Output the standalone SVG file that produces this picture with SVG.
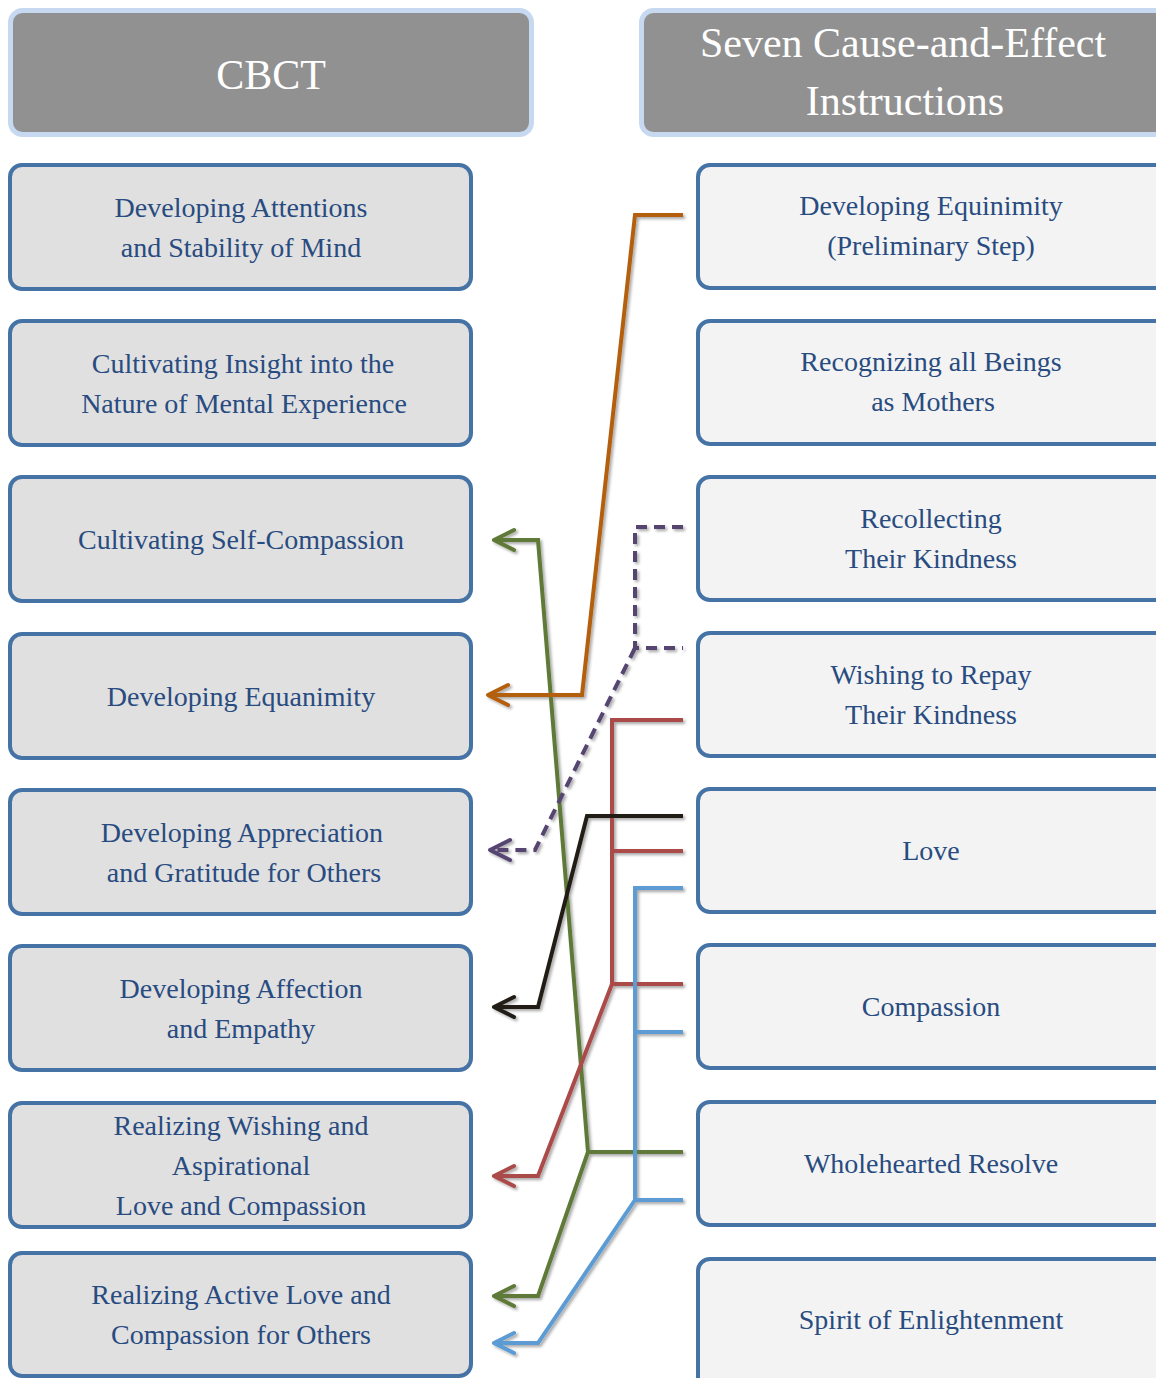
<svg xmlns="http://www.w3.org/2000/svg" width="1156" height="1378" viewBox="0 0 1156 1378">
  <style>
    .hdr { fill: #919191; stroke: #c6d9f1; stroke-width: 5; }
    .hdr-t { font-family: "Liberation Serif", "Times New Roman", serif; font-size: 42px; fill: #ffffff; text-anchor: middle; }
    .nl { fill: #e0e0e0; stroke: #4673a5; stroke-width: 4; }
    .nr { fill: #f3f3f3; stroke: #4673a5; stroke-width: 4; }
    .t { font-family: "Liberation Serif", "Times New Roman", serif; font-size: 28px; fill: #284b80; text-anchor: middle; }
    .c { fill: none; stroke-width: 4; stroke-linejoin: miter; }
    .orange { stroke: #b35f0e; }
    .green { stroke: #5f7a38; }
    .purple { stroke: #544470; stroke-dasharray: 11 7; }
    .red { stroke: #ab4c48; }
    .black { stroke: #231f14; }
    .blue { stroke: #5b9bd3; }
  </style>
  <defs>
    <filter id="shade" x="-10%" y="-10%" width="130%" height="130%">
      <feDropShadow dx="2" dy="2" stdDeviation="1.5" flood-color="#000" flood-opacity="0.35"/>
    </filter>
    <marker id="ah-orange" markerUnits="userSpaceOnUse" viewBox="-26 -16 32 32" markerWidth="32" markerHeight="32" refX="0" refY="0" orient="auto">
      <path d="M-20,-10 L0,0 L-20,10" fill="none" stroke="#b35f0e" stroke-width="4" stroke-linecap="round" stroke-linejoin="round"/>
    </marker>
    <marker id="ah-green" markerUnits="userSpaceOnUse" viewBox="-26 -16 32 32" markerWidth="32" markerHeight="32" refX="0" refY="0" orient="auto">
      <path d="M-20,-10 L0,0 L-20,10" fill="none" stroke="#5f7a38" stroke-width="4" stroke-linecap="round" stroke-linejoin="round"/>
    </marker>
    <marker id="ah-purple" markerUnits="userSpaceOnUse" viewBox="-26 -16 32 32" markerWidth="32" markerHeight="32" refX="0" refY="0" orient="auto">
      <path d="M-20,-10 L0,0 L-20,10" fill="none" stroke="#544470" stroke-width="4" stroke-linecap="round" stroke-linejoin="round"/>
    </marker>
    <marker id="ah-red" markerUnits="userSpaceOnUse" viewBox="-26 -16 32 32" markerWidth="32" markerHeight="32" refX="0" refY="0" orient="auto">
      <path d="M-20,-10 L0,0 L-20,10" fill="none" stroke="#ab4c48" stroke-width="4" stroke-linecap="round" stroke-linejoin="round"/>
    </marker>
    <marker id="ah-black" markerUnits="userSpaceOnUse" viewBox="-26 -16 32 32" markerWidth="32" markerHeight="32" refX="0" refY="0" orient="auto">
      <path d="M-20,-10 L0,0 L-20,10" fill="none" stroke="#231f14" stroke-width="4" stroke-linecap="round" stroke-linejoin="round"/>
    </marker>
    <marker id="ah-blue" markerUnits="userSpaceOnUse" viewBox="-26 -16 32 32" markerWidth="32" markerHeight="32" refX="0" refY="0" orient="auto">
      <path d="M-20,-10 L0,0 L-20,10" fill="none" stroke="#5b9bd3" stroke-width="4" stroke-linecap="round" stroke-linejoin="round"/>
    </marker>
  </defs>

  <rect width="1156" height="1378" fill="#ffffff"/>

  <!-- column headers -->
  <g id="header-cbct">
    <rect class="hdr" x="10.5" y="10.5" width="521" height="124" rx="12"/>
    <text class="hdr-t" x="271" y="89">CBCT</text>
  </g>
  <g id="header-seven">
    <rect class="hdr" x="641.5" y="10.5" width="530" height="124" rx="12"/>
    <text class="hdr-t" x="903" y="57">Seven Cause-and-Effect</text>
    <text class="hdr-t" x="905" y="115">Instructions</text>
  </g>

  <!-- CBCT stages -->
  <g id="cbct-1">
    <rect class="nl" x="10" y="165" width="461" height="124" rx="12"/>
    <text class="t" x="241" y="217">Developing Attentions</text>
    <text class="t" x="241" y="257">and Stability of Mind</text>
  </g>
  <g id="cbct-2">
    <rect class="nl" x="10" y="321" width="461" height="124" rx="12"/>
    <text class="t" x="243" y="373">Cultivating Insight into the</text>
    <text class="t" x="244" y="413">Nature of Mental Experience</text>
  </g>
  <g id="cbct-3">
    <rect class="nl" x="10" y="477" width="461" height="124" rx="12"/>
    <text class="t" x="241" y="549">Cultivating Self-Compassion</text>
  </g>
  <g id="cbct-4">
    <rect class="nl" x="10" y="634" width="461" height="124" rx="12"/>
    <text class="t" x="241" y="706">Developing Equanimity</text>
  </g>
  <g id="cbct-5">
    <rect class="nl" x="10" y="790" width="461" height="124" rx="12"/>
    <text class="t" x="242" y="842">Developing Appreciation</text>
    <text class="t" x="244" y="882">and Gratitude for Others</text>
  </g>
  <g id="cbct-6">
    <rect class="nl" x="10" y="946" width="461" height="124" rx="12"/>
    <text class="t" x="241" y="998">Developing Affection</text>
    <text class="t" x="241" y="1038">and Empathy</text>
  </g>
  <g id="cbct-7">
    <rect class="nl" x="10" y="1103" width="461" height="124" rx="12"/>
    <text class="t" x="241" y="1135">Realizing Wishing and</text>
    <text class="t" x="241" y="1175">Aspirational</text>
    <text class="t" x="241" y="1215">Love and Compassion</text>
  </g>
  <g id="cbct-8">
    <rect class="nl" x="10" y="1253" width="461" height="123" rx="12"/>
    <text class="t" x="241" y="1304">Realizing Active Love and</text>
    <text class="t" x="241" y="1344">Compassion for Others</text>
  </g>

  <!-- seven-point instructions -->
  <g id="seven-1">
    <rect class="nr" x="698" y="165" width="470" height="123" rx="12"/>
    <text class="t" x="931" y="215">Developing Equinimity</text>
    <text class="t" x="931" y="255">(Preliminary Step)</text>
  </g>
  <g id="seven-2">
    <rect class="nr" x="698" y="321" width="470" height="123" rx="12"/>
    <text class="t" x="931" y="371">Recognizing all Beings</text>
    <text class="t" x="933" y="411">as Mothers</text>
  </g>
  <g id="seven-3">
    <rect class="nr" x="698" y="477" width="470" height="123" rx="12"/>
    <text class="t" x="931" y="528">Recollecting</text>
    <text class="t" x="931" y="568">Their Kindness</text>
  </g>
  <g id="seven-4">
    <rect class="nr" x="698" y="633" width="470" height="123" rx="12"/>
    <text class="t" x="931" y="684">Wishing to Repay</text>
    <text class="t" x="931" y="724">Their Kindness</text>
  </g>
  <g id="seven-5">
    <rect class="nr" x="698" y="789" width="470" height="123" rx="12"/>
    <text class="t" x="931" y="860">Love</text>
  </g>
  <g id="seven-6">
    <rect class="nr" x="698" y="945" width="470" height="123" rx="12"/>
    <text class="t" x="931" y="1016">Compassion</text>
  </g>
  <g id="seven-7">
    <rect class="nr" x="698" y="1102" width="470" height="123" rx="12"/>
    <text class="t" x="931" y="1173">Wholehearted Resolve</text>
  </g>
  <g id="seven-8">
    <rect class="nr" x="698" y="1259" width="470" height="140" rx="12"/>
    <text class="t" x="931" y="1329">Spirit of Enlightenment</text>
  </g>

  <!-- mapping connectors -->
  <g id="connectors" filter="url(#shade)">
    <path class="c green" d="M683,1152 H588 L538,540 H494" marker-end="url(#ah-green)"/>
    <path class="c green" d="M588,1152 L538,1296 H494" marker-end="url(#ah-green)"/>
    <path class="c orange" d="M683,215 H635 L582,695 H488" marker-end="url(#ah-orange)"/>
    <path class="c purple" d="M683,527 H635 V648 H683"/>
    <path class="c purple" d="M635,648 L535,850 H490" marker-end="url(#ah-purple)"/>
    <path class="c red" d="M683,720 H612 V984 H683"/>
    <path class="c red" d="M683,851 H612"/>
    <path class="c red" d="M612,984 L538,1176 H494" marker-end="url(#ah-red)"/>
    <path class="c black" d="M683,816 H587 L538,1007 H494" marker-end="url(#ah-black)"/>
    <path class="c blue" d="M683,888 H635 V1200 H683"/>
    <path class="c blue" d="M683,1032 H635"/>
    <path class="c blue" d="M635,1200 L538,1343 H494" marker-end="url(#ah-blue)"/>
  </g>
</svg>
